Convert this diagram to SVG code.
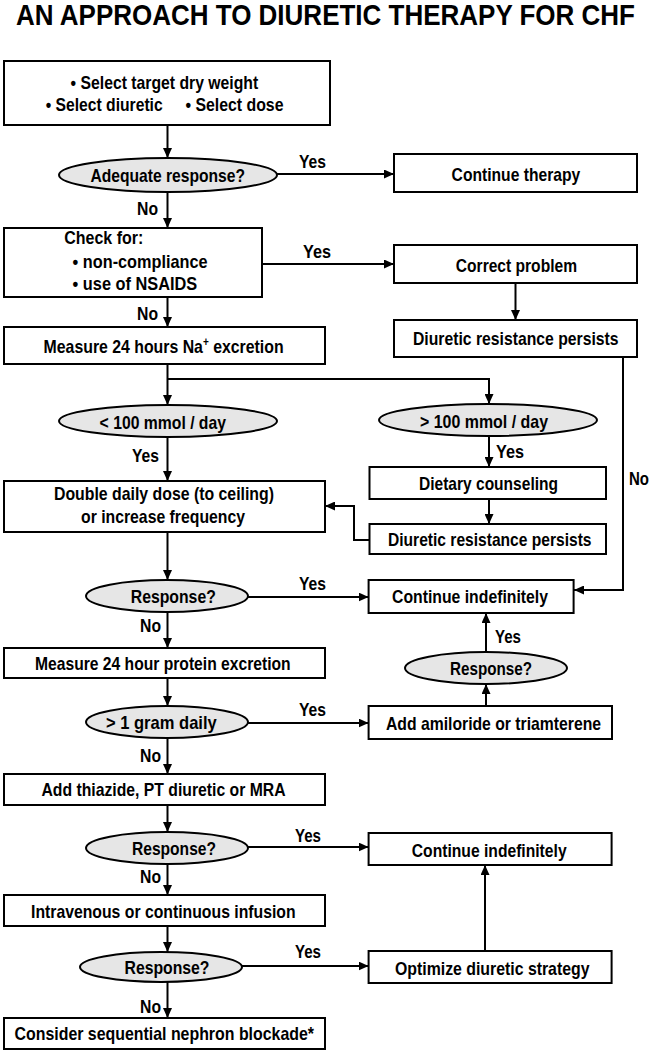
<svg xmlns="http://www.w3.org/2000/svg" width="651" height="1050" viewBox="0 0 651 1050">
<style>
.bx{fill:#fff;stroke:#000;stroke-width:2}
.el{fill:#e6e6e6;stroke:#000;stroke-width:2}
.t{font-family:"Liberation Sans Narrow","Arial Narrow","Liberation Sans",Arial,sans-serif;font-weight:bold;font-size:19px;fill:#000}
.ttl{font-family:"Liberation Sans Narrow","Arial Narrow","Liberation Sans",Arial,sans-serif;font-weight:bold;font-size:30px;fill:#000}
.c{fill:none;stroke:#000;stroke-width:2}
.ca{fill:none;stroke:#000;stroke-width:2;marker-end:url(#ah)}
</style>
<defs>
<marker id="ah" markerUnits="userSpaceOnUse" markerWidth="11" markerHeight="9" refX="10" refY="4.5" orient="auto">
<path d="M0,0 L10,4.5 L0,9 z" fill="#000"/>
</marker>
</defs>
<text class="ttl" x="16" y="25" textLength="619" lengthAdjust="spacingAndGlyphs">AN APPROACH TO DIURETIC THERAPY FOR CHF</text>

<g id="connectors">
<path class="ca" d="M167.5,125 V158"/>
<path class="ca" d="M277,174 H394"/>
<path class="ca" d="M167.5,192 V228"/>
<path class="ca" d="M262,264 H394"/>
<path class="ca" d="M515.5,283 V320"/>
<path class="ca" d="M167.5,297 V327"/>
<path class="ca" d="M167.5,364 V405"/>
<path class="ca" d="M167.5,379 H489 V404"/>
<path class="ca" d="M167.5,437 V481"/>
<path class="ca" d="M489,436 V467"/>
<path class="ca" d="M489,499 V524"/>
<path class="ca" d="M369.5,540 H354 V506 H325"/>
<path class="ca" d="M623,357 V590 H574"/>
<path class="ca" d="M167.5,532 V580"/>
<path class="ca" d="M248,597 H368.6"/>
<path class="ca" d="M167.5,612 V648"/>
<path class="ca" d="M167.5,678 V706"/>
<path class="ca" d="M248,723 H368.6"/>
<path class="ca" d="M486,706 V684"/>
<path class="ca" d="M486,652 V613"/>
<path class="ca" d="M167.5,738 V774"/>
<path class="ca" d="M167.5,805 V832"/>
<path class="ca" d="M248,847 H368.6"/>
<path class="ca" d="M167.5,864 V895"/>
<path class="ca" d="M167.5,926 V952"/>
<path class="ca" d="M242,966 H368.6"/>
<path class="ca" d="M485,951 V865"/>
<path class="ca" d="M167.5,982 V1018"/>
<text class="t" x="299" y="168" textLength="27" lengthAdjust="spacingAndGlyphs">Yes</text>
<text class="t" x="137" y="215" textLength="21" lengthAdjust="spacingAndGlyphs">No</text>
<text class="t" x="303" y="258" textLength="28" lengthAdjust="spacingAndGlyphs">Yes</text>
<text class="t" x="137" y="320" textLength="21" lengthAdjust="spacingAndGlyphs">No</text>
<text class="t" x="132" y="462" textLength="27" lengthAdjust="spacingAndGlyphs">Yes</text>
<text class="t" x="496" y="458" textLength="28" lengthAdjust="spacingAndGlyphs">Yes</text>
<text class="t" x="629" y="485" textLength="20" lengthAdjust="spacingAndGlyphs">No</text>
<text class="t" x="299" y="590" textLength="27" lengthAdjust="spacingAndGlyphs">Yes</text>
<text class="t" x="140" y="632" textLength="21" lengthAdjust="spacingAndGlyphs">No</text>
<text class="t" x="495" y="643" textLength="26" lengthAdjust="spacingAndGlyphs">Yes</text>
<text class="t" x="299" y="716" textLength="27" lengthAdjust="spacingAndGlyphs">Yes</text>
<text class="t" x="140" y="762" textLength="21" lengthAdjust="spacingAndGlyphs">No</text>
<text class="t" x="295" y="842" textLength="26" lengthAdjust="spacingAndGlyphs">Yes</text>
<text class="t" x="140" y="883" textLength="21" lengthAdjust="spacingAndGlyphs">No</text>
<text class="t" x="295" y="958" textLength="26" lengthAdjust="spacingAndGlyphs">Yes</text>
<text class="t" x="140" y="1013" textLength="21" lengthAdjust="spacingAndGlyphs">No</text>
</g>

<g id="n-start">
<rect class="bx" x="4" y="61" width="326" height="64"/>
<text class="t" x="70.6" y="89" textLength="187.6" lengthAdjust="spacingAndGlyphs">• Select target dry weight</text>
<text class="t" x="45.7" y="110.7" textLength="117" lengthAdjust="spacingAndGlyphs">• Select diuretic</text>
<text class="t" x="185.5" y="110.7" textLength="98" lengthAdjust="spacingAndGlyphs">• Select dose</text>
</g>
<g id="n-adequate">
<ellipse class="el" cx="168" cy="175" rx="109" ry="17"/>
<text class="t" x="90.5" y="181.5" textLength="154.5" lengthAdjust="spacingAndGlyphs">Adequate response?</text>
</g>
<g id="n-continue-therapy">
<rect class="bx" x="394" y="154" width="243" height="38"/>
<text class="t" x="451.6" y="181" textLength="128.6" lengthAdjust="spacingAndGlyphs">Continue therapy</text>
</g>
<g id="n-check">
<rect class="bx" x="4" y="228" width="258" height="69"/>
<text class="t" x="64.3" y="244" textLength="79" lengthAdjust="spacingAndGlyphs">Check for:</text>
<text class="t" x="72.6" y="268" textLength="135" lengthAdjust="spacingAndGlyphs">• non-compliance</text>
<text class="t" x="72.6" y="289.5" textLength="124.6" lengthAdjust="spacingAndGlyphs">• use of NSAIDS</text>
</g>
<g id="n-correct">
<rect class="bx" x="394" y="245" width="243" height="38"/>
<text class="t" x="455.8" y="271.7" textLength="121.2" lengthAdjust="spacingAndGlyphs">Correct problem</text>
</g>
<g id="n-drp1">
<rect class="bx" x="394" y="320" width="243" height="37"/>
<text class="t" x="413" y="345" textLength="205.5" lengthAdjust="spacingAndGlyphs">Diuretic resistance persists</text>
</g>
<g id="n-measure-na">
<rect class="bx" x="4" y="327" width="321" height="37"/>
<text class="t" x="43.6" y="353.3" textLength="240" lengthAdjust="spacingAndGlyphs">Measure 24 hours Na<tspan baseline-shift="super" font-size="12">+</tspan> excretion</text>
</g>
<g id="n-lt100">
<ellipse class="el" cx="168" cy="421" rx="109" ry="16"/>
<text class="t" x="99.6" y="428.5" textLength="126.4" lengthAdjust="spacingAndGlyphs">&lt; 100 mmol / day</text>
</g>
<g id="n-gt100">
<ellipse class="el" cx="488" cy="420" rx="109" ry="16"/>
<text class="t" x="420" y="427.5" textLength="128" lengthAdjust="spacingAndGlyphs">&gt; 100 mmol / day</text>
</g>
<g id="n-dietary">
<rect class="bx" x="369.5" y="467" width="236.5" height="32"/>
<text class="t" x="419" y="490" textLength="139" lengthAdjust="spacingAndGlyphs">Dietary counseling</text>
</g>
<g id="n-drp2">
<rect class="bx" x="369.5" y="524" width="236.5" height="30"/>
<text class="t" x="388" y="546" textLength="203.5" lengthAdjust="spacingAndGlyphs">Diuretic resistance persists</text>
</g>
<g id="n-double">
<rect class="bx" x="4" y="481" width="321" height="51"/>
<text class="t" x="54" y="500" textLength="220" lengthAdjust="spacingAndGlyphs">Double daily dose (to ceiling)</text>
<text class="t" x="81" y="522.7" textLength="164" lengthAdjust="spacingAndGlyphs">or increase frequency</text>
</g>
<g id="n-resp1">
<ellipse class="el" cx="167" cy="596" rx="81" ry="16"/>
<text class="t" x="130.8" y="603" textLength="85" lengthAdjust="spacingAndGlyphs">Response?</text>
</g>
<g id="n-ci1">
<rect class="bx" x="368.6" y="580" width="205" height="33"/>
<text class="t" x="392" y="603.3" textLength="156" lengthAdjust="spacingAndGlyphs">Continue indefinitely</text>
</g>
<g id="n-protein">
<rect class="bx" x="4" y="648" width="321" height="30"/>
<text class="t" x="35" y="670" textLength="255.6" lengthAdjust="spacingAndGlyphs">Measure 24 hour protein excretion</text>
</g>
<g id="n-gram">
<ellipse class="el" cx="167" cy="722" rx="81" ry="16"/>
<text class="t" x="106" y="729" textLength="110.7" lengthAdjust="spacingAndGlyphs">&gt; 1 gram daily</text>
</g>
<g id="n-amiloride">
<rect class="bx" x="368.6" y="706" width="243.4" height="33"/>
<text class="t" x="386" y="730" textLength="215" lengthAdjust="spacingAndGlyphs">Add amiloride or triamterene</text>
</g>
<g id="n-resp-right">
<ellipse class="el" cx="486" cy="668" rx="81" ry="16"/>
<text class="t" x="450" y="675" textLength="82" lengthAdjust="spacingAndGlyphs">Response?</text>
</g>
<g id="n-thiazide">
<rect class="bx" x="4" y="774" width="321" height="31"/>
<text class="t" x="41.5" y="796" textLength="244" lengthAdjust="spacingAndGlyphs">Add thiazide, PT diuretic or MRA</text>
</g>
<g id="n-resp2">
<ellipse class="el" cx="167" cy="848" rx="81" ry="16"/>
<text class="t" x="132" y="855" textLength="84" lengthAdjust="spacingAndGlyphs">Response?</text>
</g>
<g id="n-ci2">
<rect class="bx" x="368.6" y="833" width="243" height="32"/>
<text class="t" x="411.8" y="856.7" textLength="154.8" lengthAdjust="spacingAndGlyphs">Continue indefinitely</text>
</g>
<g id="n-iv">
<rect class="bx" x="4" y="895" width="321" height="31"/>
<text class="t" x="31" y="918.3" textLength="264.6" lengthAdjust="spacingAndGlyphs">Intravenous or continuous infusion</text>
</g>
<g id="n-resp3">
<ellipse class="el" cx="161" cy="967" rx="81" ry="15"/>
<text class="t" x="124.5" y="974" textLength="85" lengthAdjust="spacingAndGlyphs">Response?</text>
</g>
<g id="n-optimize">
<rect class="bx" x="368.6" y="951" width="243" height="32"/>
<text class="t" x="395" y="975" textLength="194.5" lengthAdjust="spacingAndGlyphs">Optimize diuretic strategy</text>
</g>
<g id="n-consider">
<rect class="bx" x="4" y="1018" width="321" height="31"/>
<text class="t" x="14.5" y="1040" textLength="299.5" lengthAdjust="spacingAndGlyphs">Consider sequential nephron blockade*</text>
</g>
</svg>
